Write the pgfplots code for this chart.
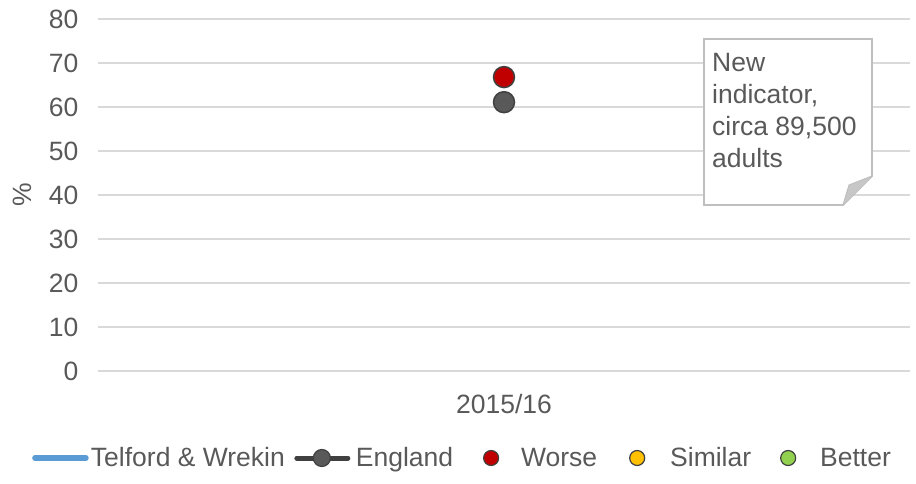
\documentclass[border=0pt]{standalone}
\usepackage{pgfplots}
\pgfplotsset{compat=1.18}
\usepackage{fontspec}
\setmainfont{Liberation Sans}
\definecolor{txt}{HTML}{595959}
\definecolor{gridc}{HTML}{D9D9D9}
\definecolor{worse}{HTML}{C00000}
\definecolor{similar}{HTML}{FFC000}
\definecolor{better}{HTML}{92D050}
\definecolor{eng}{HTML}{595959}
\definecolor{engline}{HTML}{404040}
\definecolor{tw}{HTML}{5B9BD5}
\newcommand{\bigf}{\fontsize{26.5}{31}\selectfont}
\begin{document}
\begin{tikzpicture}[x=1pt,y=1pt]
\path[use as bounding box] (0,0) rectangle (916,483);
\begin{axis}[
  at={(98pt,112pt)}, anchor=south west,
  scale only axis, width=812pt, height=352pt,
  xmin=-0.5, xmax=0.5, ymin=0, ymax=80,
  xtick={0}, xticklabels={2015/16},
  ytick={0,10,...,80},
  xmajorgrids=false, ymajorgrids=true,
  grid style={draw=gridc, line width=1.3pt},
  axis line style={draw=none},
  major tick length=0pt,
  tick label style={font=\bigf, text=txt},
  /pgf/number format/assume math mode=true,
  yticklabel style={xshift=-16pt},
  xticklabel style={yshift=-20pt},
  clip=false,
  legend columns=5,
  legend style={at={(-66pt,-87pt)}, anchor=west, draw=none, fill=none,
    font=\bigf, text=txt, inner sep=0pt, column sep=0pt, row sep=0pt,
    nodes={inner sep=0pt}},
  legend cell align=left,
]
\addlegendimage{legend image code/.code={\path[draw=none] (0pt,0pt) -- (58pt,0pt); \draw[tw, line width=5.5pt, line cap=round] (2pt,0pt) -- (53pt,0pt);}}
\addlegendentry{Telford \& Wrekin}
\addlegendimage{legend image code/.code={\path[draw=none] (0pt,0pt) -- (71pt,0pt); \draw[engline, line width=5pt, line cap=round] (12pt,0pt) -- (63pt,0pt); \filldraw[fill=eng, draw=engline, line width=1.2pt] (37pt,0pt) circle (8.5pt);}}
\addlegendentry{England}
\addlegendimage{legend image code/.code={\path[draw=none] (0pt,0pt) -- (68pt,0pt); \filldraw[fill=worse, draw=engline, line width=1.2pt] (38pt,0pt) circle (7.5pt);}}
\addlegendentry{Worse}
\addlegendimage{legend image code/.code={\path[draw=none] (0pt,0pt) -- (73pt,0pt); \filldraw[fill=similar, draw=engline, line width=1.2pt] (40pt,0pt) circle (7.5pt);}}
\addlegendentry{Similar}
\addlegendimage{legend image code/.code={\path[draw=none] (0pt,0pt) -- (69pt,0pt); \filldraw[fill=better, draw=engline, line width=1.2pt] (37pt,0pt) circle (7.5pt);}}
\addlegendentry{Better}
\addplot[forget plot, only marks, mark=*, mark size=10.5pt, mark options={fill=eng, draw=engline, line width=1.5pt}] coordinates {(0,61.1)};
\addplot[forget plot, only marks, mark=*, mark size=10.5pt, mark options={fill=worse, draw=engline, line width=1.5pt}] coordinates {(0,66.8)};
\end{axis}
\node[rotate=90, text=txt, font=\bigf] at (22,288) {\%};
% note box
\draw[draw=black!25, line width=1.8pt, fill=white] (704,444) -- (872,444) -- (872,307) -- (843,278) -- (704,278) -- cycle;
\fill[black!22] (843,278) -- (872,307) -- (849,298) -- cycle;
\draw[black!25, line width=1pt] (843,278) -- (849,298) -- (872,307);
\node[anchor=north west, align=left, text=txt, font=\fontsize{26.5}{31.7}\selectfont, inner sep=0pt] at (712,429.5) {New\\indicator,\\circa 89,500\\adults};
\end{tikzpicture}
\end{document}
